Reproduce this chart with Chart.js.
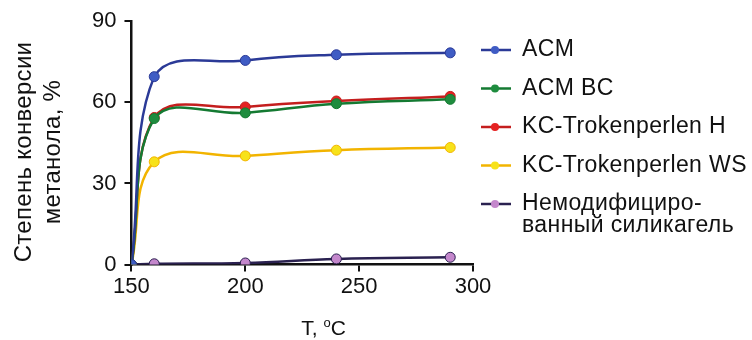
<!DOCTYPE html>
<html>
<head>
<meta charset="utf-8">
<script src="https://cdn.jsdelivr.net/npm/chart.js@4"></script>
<style>
  html, body { margin: 0; padding: 0; background: #fff; }
  #wrap { width: 752px; height: 340px; }
</style>
</head>
<body>
<div id="wrap"><canvas id="convChart"></canvas></div>
<script>
const temps = [150, 160, 200, 240, 290];
const acm = [0, 69.5, 75.5, 77.6, 78.3];
const acmBC = [0, 54, 56.1, 59.5, 61.1];
const kcH = [0, 54.4, 58.3, 60.5, 62.2];
const kcWS = [0, 38, 40.2, 42.3, 43.3];
const silica = [0, 0.3, 0.6, 2.1, 2.7];
const seriesNames = ["ACM", "ACM BC", "KC-Trokenperlen H", "KC-Trokenperlen WS", ["Немодифициро-", "ванный силикагель"]];
const yTitle = ["Степень конверсии", "метанола, %"];
const xTicks = [150, 200, 250, 300];
const yTicks = [0, 30, 60, 90];

const FONT = "'Liberation Sans', Arial, sans-serif";

function pts(vals) {
    return temps.map((t, i) => ({ x: t, y: vals[i] }));
}

function makeSet(name, vals, line, fill) {
    return {
        label: name,
        data: pts(vals),
        borderColor: line,
        backgroundColor: fill,
        pointBackgroundColor: fill,
        pointBorderColor: line,
        pointBorderWidth: 1,
        pointRadius: 5,
        borderWidth: 2.5,
        tension: 0.4
    };
}

// legend, axis titles drawn by hand (two-line label, superscript degree, offset y title)
const extras = {
    id: "extras",
    afterDraw(chart) {
        const c = chart.ctx;
        const area = chart.chartArea;
        const x0 = area.right + 8;
        let y = 50;
        c.save();
        c.font = "23px " + FONT;
        c.letterSpacing = "0.4px";
        c.textBaseline = "middle";
        chart.data.datasets.forEach(ds => {
            c.strokeStyle = ds.borderColor;
            c.lineWidth = 2.5;
            c.beginPath();
            c.moveTo(x0, y);
            c.lineTo(x0 + 30, y);
            c.stroke();
            c.fillStyle = ds.backgroundColor;
            c.beginPath();
            c.arc(x0 + 14, y, 4, 0, Math.PI * 2);
            c.fill();
            c.fillStyle = "#111";
            const lines = Array.isArray(ds.label) ? ds.label : [ds.label];
            lines.forEach((l, i) => c.fillText(l, x0 + 41, y + i * 22));
            y += 38.5;
        });

        // y title, rotated
        c.save();
        c.font = "24px " + FONT;
        c.letterSpacing = "0.3px";
        c.textAlign = "center";
        c.translate(0, 152);
        c.rotate(-Math.PI / 2);
        c.fillText(yTitle[0], 0, 24);
        c.fillText(yTitle[1], 0, 53);
        c.restore();

        // "T, °C" with raised o
        c.textBaseline = "alphabetic";
        c.letterSpacing = "0px";
        c.fillStyle = "#111";
        let tx = (area.left + area.right) / 2 - 1;
        const ty = 335;
        c.font = "21px " + FONT;
        c.fillText("T, ", tx, ty);
        tx += c.measureText("T, ").width;
        c.font = "13px " + FONT;
        c.fillText("o", tx, ty - 8);
        tx += c.measureText("o").width;
        c.font = "21px " + FONT;
        c.fillText("C", tx, ty);
        c.restore();
    }
};

const ctx = document.getElementById("convChart").getContext("2d");

new Chart(ctx, {
    type: "line",
    data: {
        datasets: [
            makeSet(seriesNames[0], acm, "#2b3a97", "#3f5cc4"),
            makeSet(seriesNames[1], acmBC, "#147a32", "#1e8c3e"),
            makeSet(seriesNames[2], kcH, "#c41e1e", "#e52222"),
            makeSet(seriesNames[3], kcWS, "#f2b400", "#f7e21a"),
            makeSet(seriesNames[4], silica, "#2a2150", "#c487cc")
        ]
    },
    options: {
        responsive: true,
        maintainAspectRatio: false,
        animation: false,
        layout: { padding: { top: 17, right: 279, bottom: 38, left: 84 } },
        plugins: {
            legend: { display: false },
            tooltip: { enabled: false }
        },
        scales: {
            x: {
                type: "linear",
                min: 150,
                max: 300,
                afterBuildTicks: axis => { axis.ticks = xTicks.map(v => ({ value: v })); },
                grid: { drawOnChartArea: false, drawTicks: true, tickLength: 7, color: "#111", lineWidth: 2 },
                border: { color: "#111", width: 2.5 },
                ticks: { color: "#111", font: { size: 22, family: FONT }, padding: 2 },
                title: { display: false }
            },
            y: {
                min: 0,
                max: 90,
                afterBuildTicks: axis => { axis.ticks = yTicks.map(v => ({ value: v })); },
                grid: { drawOnChartArea: false, drawTicks: true, tickLength: 7, color: "#111", lineWidth: 2 },
                border: { color: "#111", width: 2.5 },
                ticks: { color: "#111", font: { size: 22, family: FONT }, padding: 8 },
                title: { display: false }
            }
        }
    },
    plugins: [extras]
});
</script>
</body>
</html>
